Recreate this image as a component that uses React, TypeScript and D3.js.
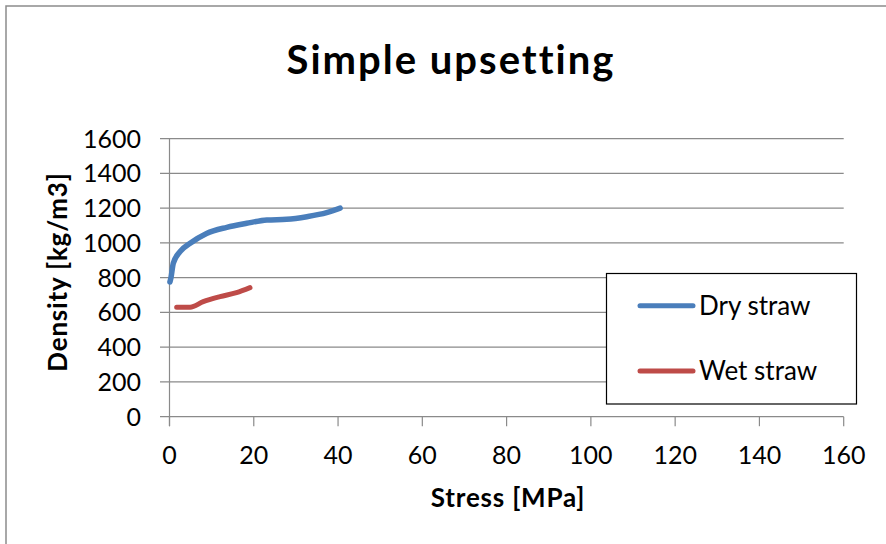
import React from "react";
import * as d3 from "d3";

const xTicks = [0, 20, 40, 60, 80, 100, 120, 140, 160];
const yTicks = [0, 200, 400, 600, 800, 1000, 1200, 1400, 1600];

const dryStress = [0.1, 0.35, 0.9, 2.5, 4.9, 8.8, 13.6, 18.3, 23.1, 27.8, 32.6, 37.3, 40.5];
const dryDensity = [775, 800, 883, 950, 998, 1055, 1090, 1113, 1132, 1136, 1151, 1174, 1200];

const wetStress = [1.7, 4.9, 8.0, 12.0, 15.9, 19.1];
const wetDensity = [630, 630, 662, 691, 714, 743];

const seriesNames = ["Dry straw", "Wet straw"];
const seriesColors = ["#4a7ebb", "#be4b48"];

const FONT = "Lato, 'Open Sans', sans-serif";

export default function App() {
  const x = d3.scaleLinear().domain([0, 160]).range([169.5, 843.7]);
  const y = d3.scaleLinear().domain([0, 1600]).range([416.7, 138.7]);

  const line = d3
    .line<[number, number]>()
    .x((d) => x(d[0]))
    .y((d) => y(d[1]))
    .curve(d3.curveMonotoneX);

  const dry: [number, number][] = dryStress.map((s, i) => [s, dryDensity[i]]);
  const wet: [number, number][] = wetStress.map((s, i) => [s, wetDensity[i]]);

  const gridColor = "#8a8a8a";
  const x0 = x(0);
  const x1 = x(160);
  const yBase = y(0);

  return (
    <svg
      width={886}
      height={544}
      style={{ position: "absolute", left: 0, top: 0, background: "#fff" }}
      fontFamily={FONT}
    >
      <rect x={0} y={0} width={886} height={544} fill="#fff" />
      <rect x={6} y={6} width={900} height={560} fill="#fff" stroke="#8c8c8c" strokeWidth={1.5} />

      <text x={451} y={74} textAnchor="middle" fontSize={40} fontWeight="bold" letterSpacing={2} fill="#000">
        Simple upsetting
      </text>

      {yTicks.map((t) => (
        <line key={"g" + t} x1={160} x2={x1} y1={y(t)} y2={y(t)} stroke={gridColor} strokeWidth={1.2} />
      ))}
      <line x1={x0} x2={x0} y1={y(1600)} y2={yBase + 9.5} stroke={gridColor} strokeWidth={1.2} />
      {xTicks.map((t) => (
        <line key={"xt" + t} x1={x(t)} x2={x(t)} y1={yBase} y2={yBase + 9.5} stroke={gridColor} strokeWidth={1.2} />
      ))}

      {yTicks.map((t) => (
        <text key={"yl" + t} x={141} y={y(t) + 9} textAnchor="end" fontSize={25} fill="#000">
          {t}
        </text>
      ))}
      {xTicks.map((t) => (
        <text key={"xl" + t} x={x(t)} y={464} textAnchor="middle" fontSize={25} fill="#000">
          {t}
        </text>
      ))}

      <text x={508} y={507} textAnchor="middle" fontSize={26} fontWeight="bold" letterSpacing={0.8} fill="#000">
        Stress [MPa]
      </text>
      <text
        transform="translate(67,272) rotate(-90)"
        textAnchor="middle"
        fontSize={26}
        fontWeight="bold"
        letterSpacing={0.8}
        fill="#000"
      >
        Density [kg/m3]
      </text>

      <path d={line(dry) || ""} fill="none" stroke={seriesColors[0]} strokeWidth={5.5} strokeLinecap="round" strokeLinejoin="round" />
      <path d={line(wet) || ""} fill="none" stroke={seriesColors[1]} strokeWidth={5} strokeLinecap="round" strokeLinejoin="round" />

      <rect x={606.5} y={273.5} width={250} height={130.5} fill="#fff" stroke="#000" strokeWidth={1.2} />
      {seriesNames.map((n, i) => {
        const ly = i === 0 ? 305.7 : 371;
        return (
          <g key={n}>
            <line x1={640} x2={693} y1={ly} y2={ly} stroke={seriesColors[i]} strokeWidth={5} strokeLinecap="round" />
            <text x={699} y={ly + 9} fontSize={26} fill="#000">
              {n}
            </text>
          </g>
        );
      })}
    </svg>
  );
}
